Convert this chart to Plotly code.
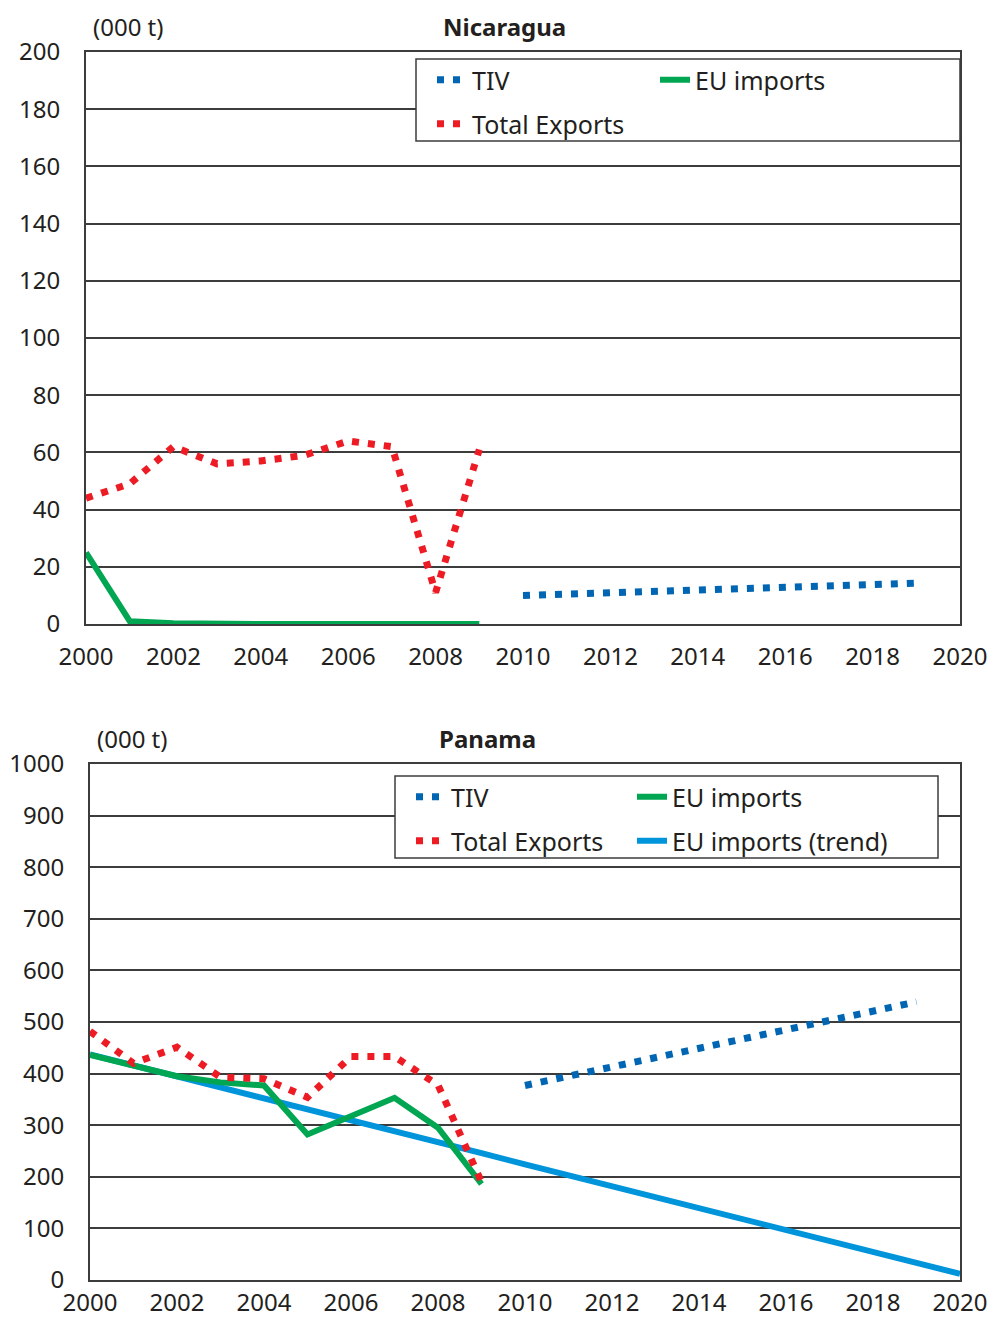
import plotly.graph_objects as go

# Nicaragua
nic_years = [2000, 2001, 2002, 2003, 2004, 2005, 2006, 2007, 2008, 2009]
nic_exports = [44, 49, 62, 56, 57, 59, 64, 62, 11, 61]
nic_eu = [25, 1, 0.3, 0, 0, 0, 0, 0, 0, 0]
nic_tiv_years = [2010, 2011, 2012, 2013, 2014, 2015, 2016, 2017, 2018, 2019]
nic_tiv = [10, 10.5, 11, 11.4, 11.9, 12.4, 12.9, 13.3, 13.8, 14.3]

# Panama
pan_years = [2000, 2001, 2002, 2003, 2004, 2005, 2006, 2007, 2008, 2009]
pan_exports = [482, 420, 451, 393, 390, 354, 433, 433, 378, 190]
pan_eu = [436, 415, 395, 383, 377, 282, 318, 353, 295, 186]
pan_tiv_years = [2010, 2011, 2012, 2013, 2014, 2015, 2016, 2017, 2018, 2019]
pan_tiv = [377, 395, 413, 431, 449, 467, 485, 503, 521, 539]
pan_trend_years = list(range(2000, 2021))
pan_trend = [437, 416, 394, 373, 352, 331, 309, 288, 267, 246, 224,
             203, 182, 161, 139, 118, 97, 76, 54, 33, 12]

x_ticks = [2000, 2002, 2004, 2006, 2008, 2010, 2012, 2014, 2016, 2018, 2020]

# page has an 8px body margin, so the figure is a bit smaller and offset
OFF = 8
W, H = 997 - 2 * OFF, 1329 - 2 * OFF
FONT = "Noto Sans"
TXT = "#231f20"
GRID = "#3c3c3c"
BLUE = "#0066b3"
RED = "#ed1c24"
GREEN = "#00a651"
TREND = "#0095da"
DOT = "7px,9px"


def px(x):
    """screen x -> paper x"""
    return (x - OFF) / W


def py(y):
    """screen y -> paper y"""
    return 1 - (y - OFF) / H


fig = go.Figure()

# --- Nicaragua (top) ---
fig.add_trace(go.Scatter(x=nic_tiv_years, y=nic_tiv, name="TIV", mode="lines",
                         line=dict(color=BLUE, width=7, dash=DOT),
                         xaxis="x", yaxis="y", legend="legend"))
fig.add_trace(go.Scatter(x=nic_years, y=nic_eu, name="EU imports", mode="lines",
                         line=dict(color=GREEN, width=6),
                         xaxis="x", yaxis="y", legend="legend2"))
fig.add_trace(go.Scatter(x=nic_years, y=nic_exports, name="Total Exports", mode="lines",
                         line=dict(color=RED, width=7, dash=DOT),
                         xaxis="x", yaxis="y", legend="legend3"))

# --- Panama (bottom) ---
fig.add_trace(go.Scatter(x=pan_trend_years, y=pan_trend, name="EU imports (trend)", mode="lines",
                         line=dict(color=TREND, width=6),
                         xaxis="x2", yaxis="y2", legend="legend7"))
fig.add_trace(go.Scatter(x=pan_years, y=pan_eu, name="EU imports", mode="lines",
                         line=dict(color=GREEN, width=6),
                         xaxis="x2", yaxis="y2", legend="legend5"))
fig.add_trace(go.Scatter(x=pan_years, y=pan_exports, name="Total Exports", mode="lines",
                         line=dict(color=RED, width=7, dash=DOT),
                         xaxis="x2", yaxis="y2", legend="legend6"))
fig.add_trace(go.Scatter(x=pan_tiv_years, y=pan_tiv, name="TIV", mode="lines",
                         line=dict(color=BLUE, width=7, dash=DOT),
                         xaxis="x2", yaxis="y2", legend="legend4"))

xaxis_common = dict(range=[2000, 2020], tickvals=x_ticks, showgrid=False,
                    showline=True, mirror=True, linecolor=GRID, linewidth=2,
                    ticks="", zeroline=False, automargin=False,
                    tickfont=dict(size=24, color=TXT))
yaxis_common = dict(showgrid=True, gridcolor=GRID, gridwidth=1.5,
                    showline=True, mirror=True, linecolor=GRID, linewidth=2,
                    ticks="", zeroline=False, automargin=False,
                    tickfont=dict(size=24, color=TXT), ticklabelstandoff=19)

legend_common = dict(orientation="h", xanchor="left", yanchor="middle",
                     bgcolor="rgba(0,0,0,0)", borderwidth=0,
                     font=dict(size=25, color=TXT, family=FONT))

RIGHT = 960  # right edge of both plot areas (keeps the "2020" label on the page)

fig.update_layout(
    width=W, height=H,
    showlegend=True,
    margin=dict(l=0, r=0, t=0, b=0, autoexpand=False),
    paper_bgcolor="white", plot_bgcolor="white",
    font=dict(family=FONT, color=TXT, size=24),
    xaxis=dict(domain=[px(86), px(RIGHT)], anchor="y", ticklabelstandoff=10, **xaxis_common),
    yaxis=dict(domain=[py(624), py(52)], anchor="x", range=[0, 200], dtick=20, **yaxis_common),
    xaxis2=dict(domain=[px(90), px(RIGHT)], anchor="y2", ticklabelstandoff=0, **xaxis_common),
    yaxis2=dict(domain=[py(1280), py(764)], anchor="x2", range=[0, 1000], dtick=100, **yaxis_common),
    legend=dict(x=px(432), y=py(80), **legend_common),
    legend2=dict(x=px(655), y=py(80), **legend_common),
    legend3=dict(x=px(432), y=py(124), **legend_common),
    legend4=dict(x=px(411), y=py(797), **legend_common),
    legend5=dict(x=px(632), y=py(797), **legend_common),
    legend6=dict(x=px(411), y=py(841), **legend_common),
    legend7=dict(x=px(632), y=py(841), **legend_common),
    shapes=[
        dict(type="rect", xref="paper", yref="paper", x0=px(416), x1=px(RIGHT), y0=py(59), y1=py(141),
             line=dict(color=GRID, width=1.5), fillcolor="white", layer="above"),
        dict(type="rect", xref="paper", yref="paper", x0=px(395), x1=px(938), y0=py(776), y1=py(858),
             line=dict(color=GRID, width=1.5), fillcolor="white", layer="above"),
    ],
    annotations=[
        dict(text="(000 t)", x=px(128), y=1, yanchor="top"),
        dict(text="<b>Nicaragua</b>", x=px(505), y=1, yanchor="top"),
        dict(text="(000 t)", x=px(132), y=py(739), yanchor="middle"),
        dict(text="<b>Panama</b>", x=px(487), y=py(739), yanchor="middle"),
    ],
)
fig.update_annotations(xref="paper", yref="paper", showarrow=False, xanchor="center",
                       font=dict(size=24, color=TXT))

fig.write_html("out.html")
